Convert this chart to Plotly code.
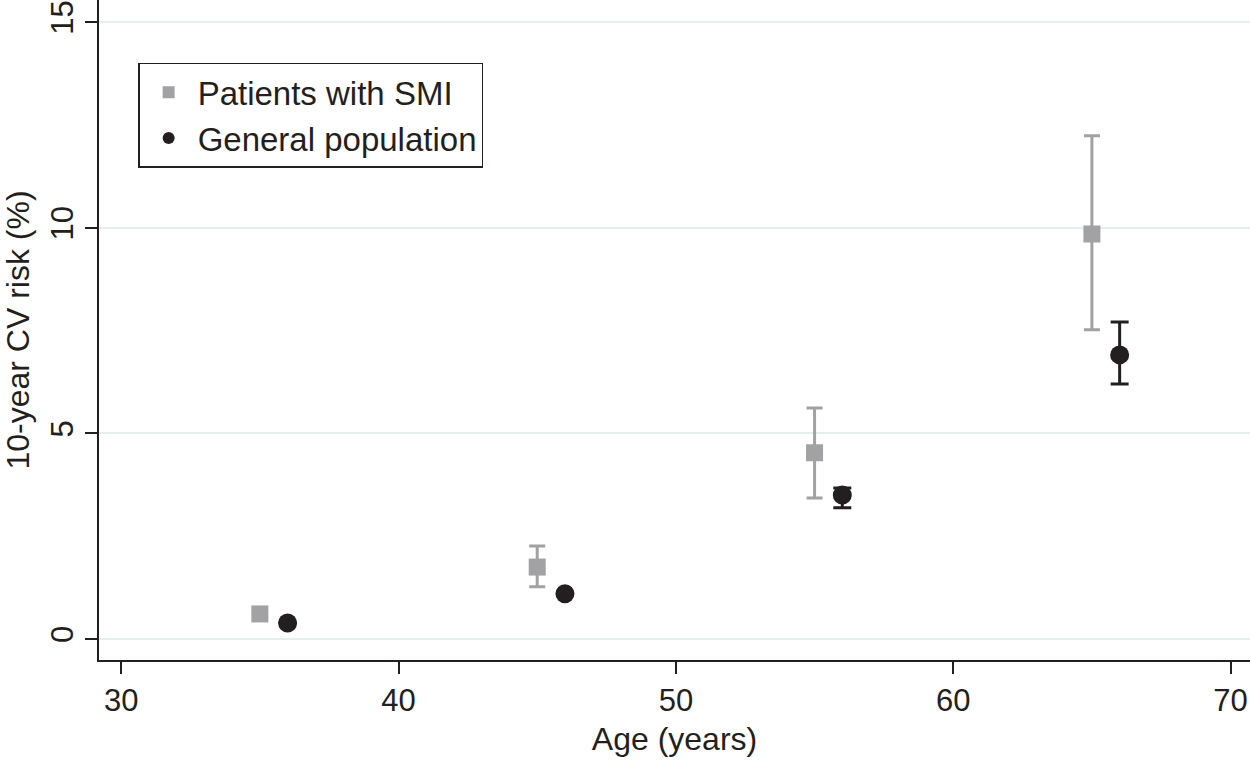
import plotly.graph_objects as go

age_smi = [35, 45, 55, 65]
risk_smi = [0.61, 1.75, 4.53, 9.85]
smi_hi = [0.61, 2.26, 5.62, 12.24]
smi_lo = [0.61, 1.27, 3.43, 7.52]

age_gp = [36, 46, 56, 66]
risk_gp = [0.39, 1.10, 3.50, 6.91]
gp_hi = [0.39, 1.10, 3.67, 7.71]
gp_lo = [0.39, 1.10, 3.19, 6.20]

x_ticks = [30, 40, 50, 60, 70]
y_ticks = [0, 5, 10, 15]

GRAY = "#a2a2a4"
BLACK = "#231f20"

fig = go.Figure()
fig.add_trace(go.Scatter(
    x=age_smi, y=risk_smi, mode="markers", name="Patients with SMI",
    marker=dict(symbol="square", size=17, color=GRAY),
    error_y=dict(type="data", symmetric=False,
                 array=[h - v for h, v in zip(smi_hi, risk_smi)],
                 arrayminus=[v - l for v, l in zip(risk_smi, smi_lo)],
                 color=GRAY, thickness=3, width=8),
))
fig.add_trace(go.Scatter(
    x=age_gp, y=risk_gp, mode="markers", name="General population",
    marker=dict(symbol="circle", size=19, color=BLACK),
    error_y=dict(type="data", symmetric=False,
                 array=[h - v for h, v in zip(gp_hi, risk_gp)],
                 arrayminus=[v - l for v, l in zip(risk_gp, gp_lo)],
                 color=BLACK, thickness=3, width=9),
))

font = "Liberation Sans, Arial, sans-serif"
fig.update_layout(
    width=1250, height=762,
    margin=dict(l=99, r=0, t=0, b=102),
    paper_bgcolor="white", plot_bgcolor="white",
    font=dict(family=font, size=31, color=BLACK),
    showlegend=True,
    legend=dict(x=0.034, y=0.905, xanchor="left", yanchor="top",
                bordercolor=BLACK, borderwidth=1.5, bgcolor="white",
                font=dict(size=33, color=BLACK),
                itemsizing="constant", tracegroupgap=0, itemwidth=48,
                ),
)
fig.update_xaxes(
    range=[29.2, 70.7], tickvals=x_ticks, ticks="outside", ticklen=12,
    tickwidth=1.5, tickcolor=BLACK, showline=True, linecolor=BLACK,
    linewidth=2, showgrid=False, zeroline=False,
    title=dict(text="Age (years)", font=dict(size=32), standoff=10),
    tickfont=dict(size=31),
)
fig.update_yaxes(
    range=[-0.51, 15.54], tickvals=y_ticks, ticks="outside", ticklen=12,
    tickwidth=1.5, tickcolor=BLACK, showline=True, linecolor=BLACK,
    linewidth=2, showgrid=True, gridcolor="#e4f0f0", gridwidth=2,
    zeroline=False, tickangle=-90,
    title=dict(text="10-year CV risk (%)", font=dict(size=32), standoff=8),
    tickfont=dict(size=31),
)

fig.write_html("out.html", config={"displayModeBar": False},
               post_script="document.body.style.margin='0';document.body.style.overflow='hidden';")
